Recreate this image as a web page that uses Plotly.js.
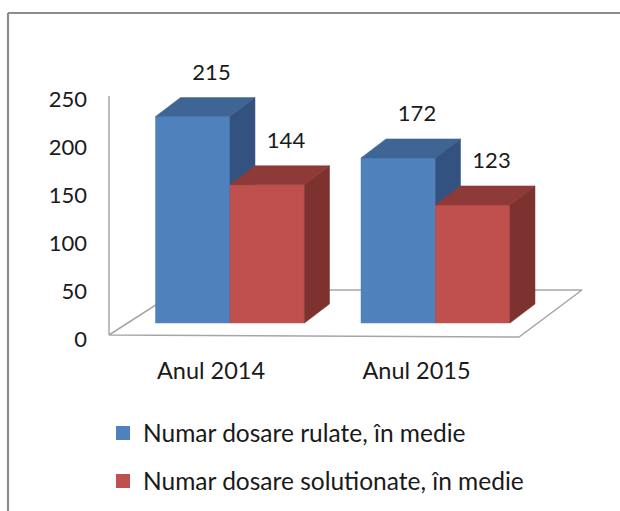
<!DOCTYPE html>
<html><head><meta charset="utf-8">
<script src="https://cdn.plot.ly/plotly-3.0.1.min.js"></script>
<style>html,body{margin:0;padding:0;background:#fff}#chart{width:620px;height:511px}</style>
</head><body><div id="chart"></div>
<script>
// ---- data ----
const categories = ["Anul 2014", "Anul 2015"];
const seriesNames = ["Numar dosare rulate, în medie", "Numar dosare solutionate, în medie"];
const rulate = [215, 172];
const solutionate = [144, 123];
const yTickValues = [0, 50, 100, 150, 200, 250];

// ---- styles ----
const frontColors = ["#4F81BD", "#C0504D"];
const topColors = ["#3E6593", "#8E3A38"];
const sideColors = ["#335280", "#7D3230"];
const textColor = "#1a1a1a";
const FONT = "Lato, 'Open Sans', sans-serif";
const FS = 22;

// ---- geometry (pixel layout helpers) ----
const W = 620, H = 511;
const UX = 205.5, X0PX = 230;          // px per category, px of category 0
const UV = 0.96, BASEPX = 323;         // px per value unit, px of value 0 (front face)
const TICK0PX = 339;                   // px of value-axis label "0"
const LABEL_SHIFT = 19;                // category label shift (px)
const xRange = [-X0PX / UX, (W - X0PX) / UX];
const yRange = [(BASEPX - H) / UV, BASEPX / UV];
const y2Range = [(TICK0PX - H) / UV, TICK0PX / UV];
const x2Range = [xRange[0] + LABEL_SHIFT / UX, xRange[1] + LABEL_SHIFT / UX];
const px2x = p => (p - X0PX) / UX;
const px2v = p => (BASEPX - p) / UV;

const barW = 0.3625;
const dx = 25 / UX, dy = 19 / UV;

const traces = [];
// floor
const floorPx = [[109, 335], [519, 337], [582, 290], [179, 290], [109, 335]];
traces.push({
  type: "scatter", mode: "lines", x: floorPx.map(p => px2x(p[0])), y: floorPx.map(p => px2v(p[1])),
  fill: "toself", fillcolor: "#ffffff", line: { color: "#a6a6a6", width: 1.5 },
  showlegend: false, hoverinfo: "skip"
});
// value axis line
traces.push({
  type: "scatter", mode: "lines", x: [px2x(109), px2x(109)], y: [px2v(335), px2v(96)],
  line: { color: "#a6a6a6", width: 1.5 }, showlegend: false, hoverinfo: "skip"
});

const series = [rulate, solutionate];
function poly(xs, ys, color) {
  traces.push({
    type: "scatter", mode: "lines", x: xs, y: ys, fill: "toself", fillcolor: color,
    line: { color: color, width: 0.5 }, showlegend: false, hoverinfo: "skip"
  });
}
categories.forEach((c, i) => {
  series.forEach((vals, s) => {
    const v = vals[i];
    const x0 = i - barW + s * barW, x1 = x0 + barW;
    poly([x0, x1, x1, x0, x0], [0, 0, v, v, 0], frontColors[s]);
    poly([x0, x1, x1 + dx, x0 + dx, x0], [v, v, v + dy, v + dy, v], topColors[s]);
    poly([x1, x1 + dx, x1 + dx, x1, x1], [0, dy, v + dy, v, 0], sideColors[s]);
  });
});
// data labels
series.forEach((vals, s) => {
  traces.push({
    type: "scatter", mode: "text",
    x: categories.map((c, i) => i - barW + s * barW + barW / 2 + 0.75 * dx),
    y: vals.map(v => v + 44),
    text: vals.map(v => String(v)), textposition: "middle center",
    textfont: { family: FONT, size: FS, color: textColor },
    cliponaxis: false, showlegend: false, hoverinfo: "skip"
  });
});
// label axes anchor trace
traces.push({ type: "scatter", mode: "markers", x: [null], y: [null], xaxis: "x2", yaxis: "y2", showlegend: false, hoverinfo: "skip" });
// legend entries
seriesNames.forEach((n, s) => {
  traces.push({
    type: "scatter", mode: "markers", x: [null], y: [null], name: n,
    marker: { symbol: "square", size: 14, color: frontColors[s] },
    legend: s === 0 ? "legend" : "legend2", showlegend: true, hoverinfo: "skip"
  });
});

const legendBase = { xanchor: "left", yanchor: "middle", bgcolor: "rgba(0,0,0,0)",
  font: { family: FONT, size: 24.5, color: textColor }, borderwidth: 0 };

const layout = {
  width: W, height: H, margin: { l: 0, r: 0, t: 0, b: 0 },
  paper_bgcolor: "#ffffff", plot_bgcolor: "#ffffff",
  font: { family: FONT, size: FS, color: textColor },
  xaxis: { range: xRange, visible: false, fixedrange: true },
  yaxis: { range: yRange, visible: false, fixedrange: true },
  xaxis2: { range: x2Range, overlaying: "x", anchor: "free", position: 1 - 354 / H, side: "bottom",
    tickmode: "array", tickvals: categories.map((c, i) => i), ticktext: categories,
    showgrid: false, zeroline: false, showline: false, ticks: "",
    tickfont: { family: FONT, size: 23.5, color: textColor } },
  yaxis2: { range: y2Range, overlaying: "y", anchor: "free", position: 109 / W, side: "left",
    tickmode: "array", tickvals: yTickValues, ticktext: yTickValues.map(String),
    showgrid: false, zeroline: false, showline: false, ticks: "", ticklabelstandoff: 22,
    tickfont: { family: FONT, size: FS, color: textColor } },
  legend: Object.assign({ x: 103 / W, y: 1 - 433 / H }, legendBase),
  legend2: Object.assign({ x: 103 / W, y: 1 - 481 / H }, legendBase),
  shapes: [
    { type: "line", xref: "paper", yref: "paper", x0: 8 / W, x1: 8 / W, y0: 1 - 13 / H, y1: -0.05, line: { color: "#8c8c8c", width: 2.2 } },
    { type: "line", xref: "paper", yref: "paper", x0: 8 / W, x1: 1.05, y0: 1 - 13 / H, y1: 1 - 13 / H, line: { color: "#8c8c8c", width: 2.2 } }
  ],
  showlegend: true, hovermode: false
};
Plotly.newPlot("chart", traces, layout, { staticPlot: true, displayModeBar: false });
</script></body></html>
